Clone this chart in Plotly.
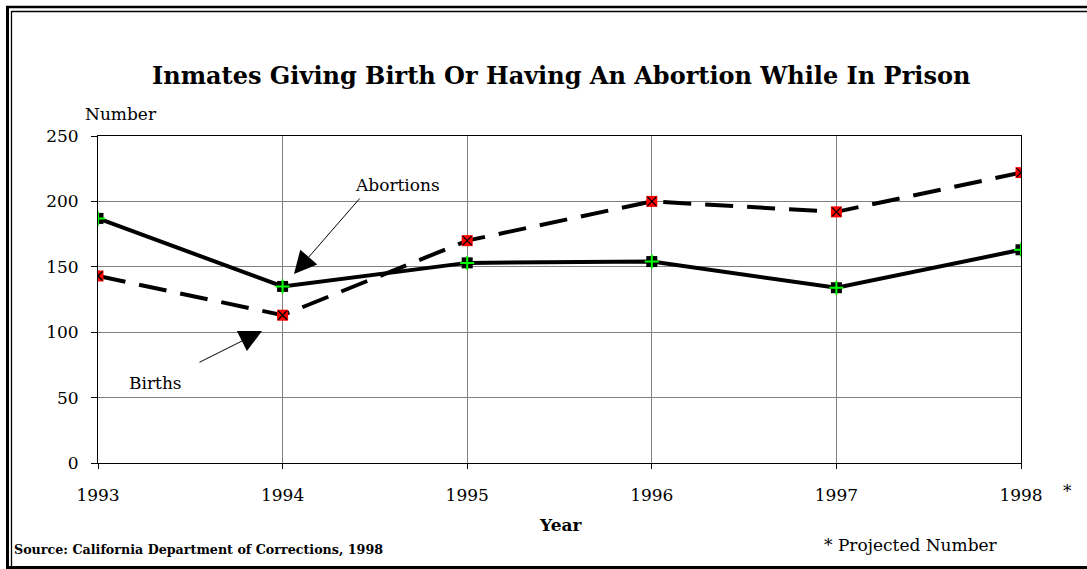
import plotly.graph_objects as go

years = [1993, 1994, 1995, 1996, 1997, 1998]
tick_labels = ["1993", "1994", "1995", "1996", "1997", "1998"]
abortions = [187, 135, 153, 154, 134, 163]
births = [143, 113, 170, 200, 192, 222]
y_ticks = [0, 50, 100, 150, 200, 250]

W, H = 1087, 569
L, R, T, B = 98, 1021, 136, 463  # plot area pixels


def px(x):
    return (x - L) / (R - L)


def py(y):
    return (B - y) / (B - T)


SERIF = "DejaVu Serif"

fig = go.Figure()

# lines
fig.add_trace(go.Scatter(x=years, y=births, mode="lines",
                         line=dict(color="black", width=4, dash="28px,14px"),
                         showlegend=False, hoverinfo="skip"))
fig.add_trace(go.Scatter(x=years, y=abortions, mode="lines",
                         line=dict(color="black", width=4),
                         showlegend=False, hoverinfo="skip"))
# markers births
fig.add_trace(go.Scatter(x=years, y=births, mode="markers",
                         marker=dict(symbol="square", size=11, color="#FF0000",
                                     line=dict(width=0)),
                         showlegend=False))
fig.add_trace(go.Scatter(x=years, y=births, mode="markers",
                         marker=dict(symbol="x-thin-open", size=9, color="black",
                                     line=dict(color="black", width=1.3)),
                         showlegend=False))
# markers abortions
fig.add_trace(go.Scatter(x=years, y=abortions, mode="markers",
                         marker=dict(symbol="square", size=11, color="black",
                                     line=dict(width=0)),
                         showlegend=False))
fig.add_trace(go.Scatter(x=years, y=abortions, mode="markers",
                         marker=dict(symbol="cross-thin-open", size=10, color="#00FF00",
                                     line=dict(color="#00FF00", width=2)),
                         showlegend=False))

shapes = [
    # double frame
    dict(type="line", xref="paper", yref="paper", x0=px(6), x1=px(1090), y0=py(7), y1=py(7),
         line=dict(color="black", width=2.5)),
    dict(type="line", xref="paper", yref="paper", x0=px(11.5), x1=px(1090), y0=py(11.5), y1=py(11.5),
         line=dict(color="black", width=1.3)),
    dict(type="line", xref="paper", yref="paper", x0=px(7.5), x1=px(7.5), y0=py(6), y1=py(570),
         line=dict(color="black", width=3)),
    dict(type="line", xref="paper", yref="paper", x0=px(11.5), x1=px(11.5), y0=py(11), y1=py(570),
         line=dict(color="black", width=1.3)),
    dict(type="line", xref="paper", yref="paper", x0=px(6), x1=px(1090), y0=py(567.5), y1=py(567.5),
         line=dict(color="black", width=3)),
]

annotations = [
    dict(text="<b>Inmates Giving Birth Or Having An Abortion While In Prison</b>",
         x=px(561), y=py(75), xref="paper", yref="paper", showarrow=False,
         xanchor="center", yanchor="middle", font=dict(family=SERIF, size=24, color="black")),
    dict(text="Number", x=px(83), y=py(114), xref="paper", yref="paper", showarrow=False,
         xanchor="left", yanchor="middle", font=dict(family=SERIF, size=17, color="black")),
    dict(text="<b>Year</b>", x=px(560), y=py(525), xref="paper", yref="paper", showarrow=False,
         xanchor="center", yanchor="middle", font=dict(family=SERIF, size=17, color="black")),
    dict(text="<b>Source: California Department of Corrections, 1998</b>", x=px(12), y=py(549),
         xref="paper", yref="paper", showarrow=False, xanchor="left", yanchor="middle",
         font=dict(family=SERIF, size=12.7, color="black")),
    dict(text="* Projected Number", x=px(822), y=py(545), xref="paper", yref="paper",
         showarrow=False, xanchor="left", yanchor="middle",
         font=dict(family=SERIF, size=17, color="black")),
    dict(text="*", x=px(1061), y=py(491), xref="paper", yref="paper", showarrow=False,
         xanchor="left", yanchor="middle", font=dict(family=SERIF, size=17, color="black")),
    # series labels
    dict(text="Abortions", x=px(397), y=py(185), xref="paper", yref="paper", showarrow=False,
         xanchor="center", yanchor="middle", font=dict(family=SERIF, size=17, color="black")),
    dict(text="Births", x=px(155), y=py(383), xref="paper", yref="paper", showarrow=False,
         xanchor="center", yanchor="middle", font=dict(family=SERIF, size=17, color="black")),
    # arrows
    dict(text="", x=px(294), y=py(274), xref="paper", yref="paper", showarrow=True,
         ax=67, ay=-77, arrowhead=2, arrowsize=4.5, arrowwidth=1, arrowcolor="black"),
    dict(text="", x=px(262), y=py(331), xref="paper", yref="paper", showarrow=True,
         ax=-64, ay=32, arrowhead=2, arrowsize=4.5, arrowwidth=1, arrowcolor="black"),
]

fig.update_layout(
    width=W, height=H,
    margin=dict(l=L, r=W - R, t=T, b=H - B, pad=0),
    paper_bgcolor="white", plot_bgcolor="white",
    shapes=shapes, annotations=annotations,
    font=dict(family=SERIF, size=17, color="black"),
    xaxis=dict(range=[1993, 1998], tickvals=years, ticktext=tick_labels,
               showgrid=True, gridcolor="#808080", gridwidth=1,
               showline=True, linecolor="black", linewidth=1, mirror=True,
               ticks="outside", ticklen=5, tickcolor="black",
               ticklabelstandoff=12, zeroline=False,
               tickfont=dict(family=SERIF, size=17, color="black")),
    yaxis=dict(range=[0, 250], tickvals=y_ticks,
               showgrid=True, gridcolor="#808080", gridwidth=1,
               showline=True, linecolor="black", linewidth=1, mirror=True,
               ticks="outside", ticklen=6, tickcolor="black",
               ticklabelstandoff=9, zeroline=False,
               tickfont=dict(family=SERIF, size=17, color="black")),
)

fig.write_html("out.html", config={"displayModeBar": False},
               post_script="document.body.style.margin='0px';")
